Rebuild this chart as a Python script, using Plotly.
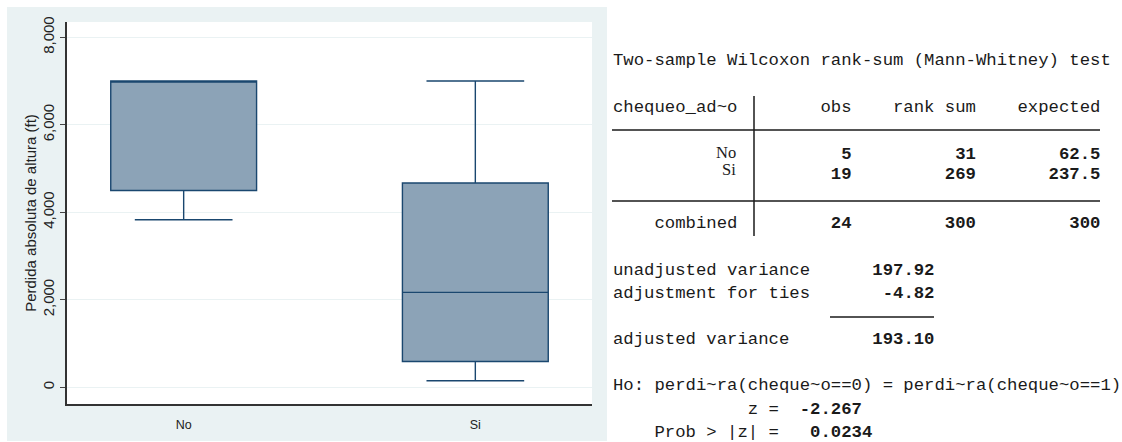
import plotly.graph_objects as go

# ---- box plot data: Perdida absoluta de altura (ft) by chequeo ----
groups = ["No", "Si"]
lower_whisker = [3830, 150]
q1 = [4500, 590]
median = [7000, 2170]
q3 = [7000, 4670]
upper_whisker = [7000, 7000]
y_ticks = [0, 2000, 4000, 6000, 8000]

# ---- Wilcoxon rank-sum output ----
obs = [5, 19]
rank_sum = [31, 269]
expected = [62.5, 237.5]
combined = [24, 300, 300]
var_unadjusted = 197.92
adj_ties = -4.82
var_adjusted = 193.10
z_stat = -2.267
p_value = 0.0234

W, H = 1122, 442


def fx(px):
    return px / W


def fy(py):
    return 1 - py / H


BOX_FILL = "#8ca3b7"
BOX_LINE = "#1a476f"
PANEL = "#eaf2f3"
TXT = "#1a1a1a"
MONO = "Liberation Mono, Courier New, monospace"

fig = go.Figure()
fig.add_trace(go.Box(
    x=groups,
    q1=q1, median=median, q3=q3,
    lowerfence=lower_whisker, upperfence=upper_whisker,
    width=0.5, whiskerwidth=0.67,
    fillcolor=BOX_FILL,
    line=dict(color=BOX_LINE, width=1.4),
    boxpoints=False,
    showlegend=False,
))

shapes = [
    # graph region background
    dict(type="rect", xref="paper", yref="paper",
         x0=fx(7), x1=fx(607), y0=fy(441), y1=fy(7),
         fillcolor=PANEL, line=dict(width=0), layer="below"),
    # plot region
    dict(type="rect", xref="x domain", yref="y domain",
         x0=0, x1=1, y0=0, y1=1,
         fillcolor="white", line=dict(width=0), layer="below"),
]


def hrule(x0, x1, y):
    return dict(type="line", xref="paper", yref="paper",
                x0=fx(x0), x1=fx(x1), y0=fy(y), y1=fy(y),
                line=dict(color=TXT, width=1.5))


shapes += [
    hrule(612, 1100, 130),
    hrule(612, 1100, 201),
    hrule(830, 934, 317),
    dict(type="line", xref="paper", yref="paper",
         x0=fx(754), x1=fx(754), y0=fy(96), y1=fy(236),
         line=dict(color=TXT, width=1.5)),
]


def nb(s):
    return s.replace(" ", "\u00a0")


def row_text(label, a, b, c, bold=True):
    nums = f"{a:>9}{f'{b:g}':>12}{f'{c:g}':>12}"
    nums = f"<b>{nb(nums)}</b>" if bold else nb(nums)
    return nb(f"{label:>12}  ") + nums


lines = [
    (61, "Two-sample Wilcoxon rank-sum (Mann-Whitney) test"),
    (107, nb(f"{'chequeo_ad~o':>12}  {'obs':>9}{'rank sum':>12}{'expected':>12}")),
    (154, row_text("", obs[0], rank_sum[0], expected[0])),
    (175, row_text("", obs[1], rank_sum[1], expected[1])),
    (223, row_text("combined", combined[0], combined[1], combined[2])),
    (270, nb(f"{'unadjusted variance':<19}") + "<b>" + nb(f"{var_unadjusted:>12.2f}") + "</b>"),
    (293, nb(f"{'adjustment for ties':<19}") + "<b>" + nb(f"{adj_ties:>12.2f}") + "</b>"),
    (339, nb(f"{'adjusted variance':<19}") + "<b>" + nb(f"{var_adjusted:>12.2f}") + "</b>"),
    (385, "Ho: perdi~ra(cheque~o==0) = perdi~ra(cheque~o==1)"),
    (409, nb(f"{'z =':>16}") + "<b>" + nb(f"{z_stat:>8.3f}") + "</b>"),
    (432, nb(f"{'Prob > |z| =':>16}") + "<b>" + nb(f"{p_value:>9.4f}") + "</b>"),
]

annotations = []
for ypix, txt in lines:
    annotations.append(dict(
        xref="paper", yref="paper", x=fx(612), y=fy(ypix),
        xanchor="left", yanchor="middle", showarrow=False, borderpad=0,
        text=txt, font=dict(family=MONO, size=17.3, color=TXT),
    ))

# group labels of the table set in a serif face
for ypix, g in zip([152, 170], groups):
    annotations.append(dict(
        xref="paper", yref="paper", x=fx(737), y=fy(ypix),
        xanchor="right", yanchor="middle", showarrow=False, borderpad=0,
        text=g, font=dict(family="Liberation Serif, Times New Roman, serif",
                          size=16.5, color=TXT),
    ))

fig.update_layout(
    width=W, height=H, autosize=False,
    margin=dict(l=0, r=0, t=0, b=0, autoexpand=False),
    paper_bgcolor="white", plot_bgcolor="white",
    shapes=shapes, annotations=annotations,
    font=dict(family="Liberation Sans, Arial, sans-serif", color="#222"),
    xaxis=dict(
        domain=[fx(67), fx(592)], type="category",
        categoryorder="array", categoryarray=groups,
        range=[-0.4, 1.4], showgrid=False, zeroline=False,
        showline=True, linecolor="#333", linewidth=1.5,
        ticks="", ticklabelstandoff=8, automargin=False,
        tickfont=dict(size=12.5, color="#222"),
    ),
    yaxis=dict(
        domain=[fy(404), fy(22)], range=[-382, 8350],
        tickvals=y_ticks, tickformat=",", tickangle=-90,
        showgrid=True, gridcolor=PANEL, gridwidth=1, zeroline=False,
        showline=True, linecolor="#333", linewidth=1.5,
        ticks="outside", ticklen=5, tickcolor="#444", tickwidth=1.3,
        automargin=False,
        tickfont=dict(size=15, color="#222"),
        title=dict(text="Perdida absoluta de altura (ft)",
                   font=dict(size=15, color="#222"), standoff=0),
    ),
)

fig.write_html("out.html")
